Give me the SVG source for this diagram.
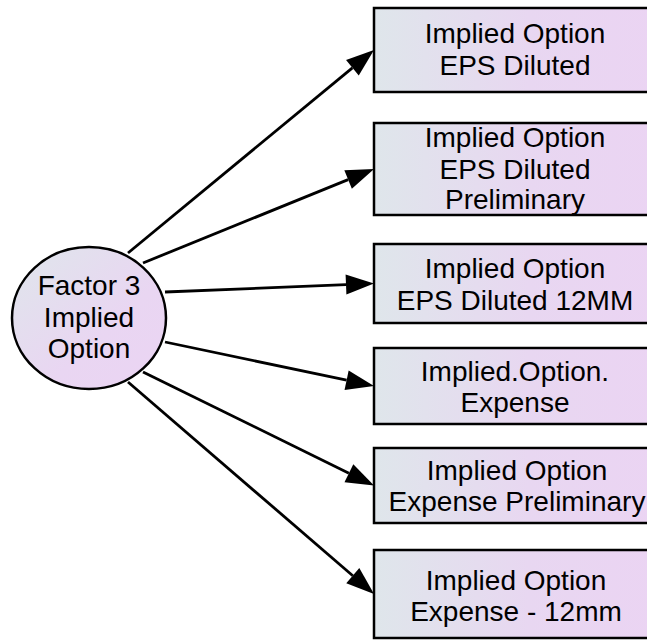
<svg xmlns="http://www.w3.org/2000/svg" width="647" height="642" viewBox="0 0 647 642">
<style>
.n{stroke:#000;stroke-width:2.5}
.box{fill:url(#gb)}
.ell{fill:url(#gc)}
.t{font-family:"Liberation Sans",Arial,sans-serif;font-size:28px;fill:#000;text-anchor:middle}
.e{stroke:#000;stroke-width:2.8;fill:none;marker-end:url(#ah)}
</style>
<defs>
<linearGradient id="gb" x1="0" y1="0" x2="1" y2="0">
<stop offset="0" stop-color="#dfe6eb"/>
<stop offset="0.55" stop-color="#e8d7f1"/>
<stop offset="1" stop-color="#ebd4f3"/>
</linearGradient>
<linearGradient id="gc" x1="0" y1="0" x2="1" y2="1">
<stop offset="0" stop-color="#dfe6eb"/>
<stop offset="0.6" stop-color="#e9d6f2"/>
<stop offset="1" stop-color="#ebd4f3"/>
</linearGradient>
<marker id="ah" markerUnits="userSpaceOnUse" markerWidth="40" markerHeight="40" refX="0" refY="0" orient="auto" overflow="visible">
<path d="M0,-10 L28,0 L0,10 Z" fill="#000"/>
</marker>
</defs>
<g id="connectors">
<line class="e" x1="128" y1="253" x2="352.4" y2="67.8"/>
<line class="e" x1="143" y1="263" x2="348.1" y2="179.6"/>
<line class="e" x1="165" y1="292" x2="346.0" y2="284.6"/>
<line class="e" x1="165" y1="342" x2="346.6" y2="380.2"/>
<line class="e" x1="143" y1="372" x2="348.9" y2="473.2"/>
<line class="e" x1="128" y1="382" x2="352.8" y2="575.7"/>
</g>
<g id="factor3">
<ellipse class="n ell" cx="89" cy="318" rx="77" ry="71"/>
<text class="t" x="89" y="295">Factor 3</text>
<text class="t" x="89" y="327">Implied</text>
<text class="t" x="89" y="358">Option</text>
</g>
<g id="box1">
<rect class="n box" x="374" y="8" width="282" height="84"/>
<text class="t" x="515" y="43">Implied Option</text>
<text class="t" x="515" y="75">EPS Diluted</text>
</g>
<g id="box2">
<rect class="n box" x="374" y="123" width="282" height="92"/>
<text class="t" x="515" y="147">Implied Option</text>
<text class="t" x="515" y="179">EPS Diluted</text>
<text class="t" x="515" y="209">Preliminary</text>
</g>
<g id="box3">
<rect class="n box" x="374" y="244" width="282" height="79"/>
<text class="t" x="515" y="278">Implied Option</text>
<text class="t" x="515" y="310">EPS Diluted 12MM</text>
</g>
<g id="box4">
<rect class="n box" x="374" y="348" width="282" height="76"/>
<text class="t" x="515" y="381">Implied.Option.</text>
<text class="t" x="515" y="412">Expense</text>
</g>
<g id="box5">
<rect class="n box" x="374" y="448" width="282" height="75"/>
<text class="t" x="517" y="480">Implied Option</text>
<text class="t" x="517" y="511">Expense Preliminary</text>
</g>
<g id="box6">
<rect class="n box" x="374" y="550" width="282" height="88"/>
<text class="t" x="516" y="590">Implied Option</text>
<text class="t" x="516" y="621">Expense - 12mm</text>
</g>
</svg>
